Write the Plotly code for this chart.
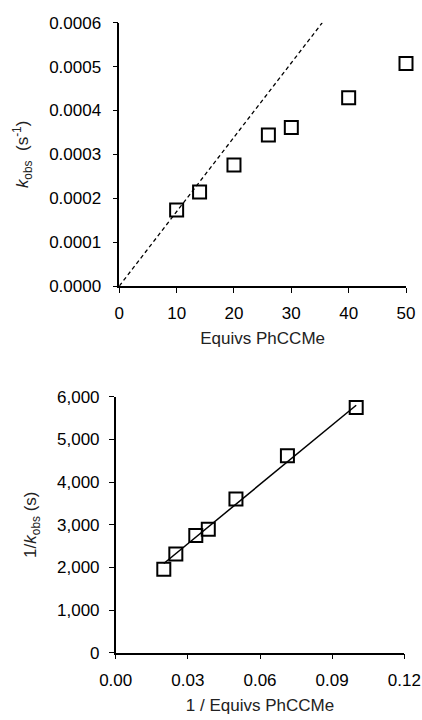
import plotly.graph_objects as go

# Top panel data: k_obs vs equivalents of PhCCMe
equivs = [10, 14, 20, 26, 30, 40, 50]
kobs = [0.000173, 0.000214, 0.000276, 0.000344, 0.000361, 0.000429, 0.000507]
# dashed reference line (initial-rate extrapolation)
dash_x = [0, 35.4]
dash_y = [0, 0.0006]

# Bottom panel data: 1/k_obs vs 1/equivs
inv_equivs = [0.02, 0.025, 0.0333, 0.0385, 0.05, 0.0714, 0.1]
inv_kobs = [1955, 2315, 2745, 2895, 3600, 4615, 5745]
fit_x = [0.02, 0.1]
fit_y = [2090, 5800]

top_xticks = [0, 10, 20, 30, 40, 50]
top_yticks = [0, 0.0001, 0.0002, 0.0003, 0.0004, 0.0005, 0.0006]
bot_xticks = [0.0, 0.03, 0.06, 0.09, 0.12]
bot_yticks = [0, 1000, 2000, 3000, 4000, 5000, 6000]

W, H = 422, 720
FONT = "Liberation Sans, Arial, sans-serif"
FS = 17

def fx(px):
    return px / W

def fy(py):
    return 1 - py / H

fig = go.Figure()

marker_style = dict(symbol="square-open", size=13, color="black",
                    line=dict(width=2, color="black"))

fig.add_trace(go.Scatter(x=dash_x, y=dash_y, mode="lines",
                         line=dict(color="black", width=1.3, dash="4px,3px"),
                         xaxis="x", yaxis="y", showlegend=False, cliponaxis=False))
fig.add_trace(go.Scatter(x=equivs, y=kobs, mode="markers", marker=marker_style,
                         xaxis="x", yaxis="y", showlegend=False, cliponaxis=False))

fig.add_trace(go.Scatter(x=fit_x, y=fit_y, mode="lines",
                         line=dict(color="black", width=1.5),
                         xaxis="x2", yaxis="y2", showlegend=False, cliponaxis=False))
fig.add_trace(go.Scatter(x=inv_equivs, y=inv_kobs, mode="markers", marker=marker_style,
                         xaxis="x2", yaxis="y2", showlegend=False, cliponaxis=False))

axis_common = dict(showline=True, linecolor="black", linewidth=1.5, showgrid=False,
                   zeroline=False, ticks="outside", ticklen=5, tickwidth=1.3,
                   tickcolor="black", tickfont=dict(family=FONT, size=FS, color="black"),
                   mirror=False, automargin=False)

title_font = dict(family=FONT, size=FS, color="#222")

fig.update_layout(
    width=W, height=H,
    margin=dict(l=0, r=0, t=0, b=0),
    paper_bgcolor="white", plot_bgcolor="white",
    font=dict(family=FONT, size=FS, color="black"),
    xaxis=dict(axis_common, domain=[fx(119.3), fx(406)], range=[0, 50],
               tickvals=top_xticks, anchor="y", ticklabelstandoff=6,
               title=dict(text="Equivs PhCCMe", standoff=10, font=title_font)),
    yaxis=dict(axis_common, domain=[fy(286), fy(22.7)], range=[0, 0.0006],
               tickvals=top_yticks, tickformat=".4f", anchor="x", ticklabelstandoff=8,
               title=dict(text="<i>k</i><sub>obs</sub>  (s<sup>-1</sup>)", standoff=16,
                          font=title_font)),
    xaxis2=dict(axis_common, domain=[fx(115.7), fx(404.3)], range=[0, 0.12],
                tickvals=bot_xticks, tickformat=".2f", anchor="y2", ticklabelstandoff=6,
                title=dict(text="1 / Equivs PhCCMe", standoff=10, font=title_font)),
    yaxis2=dict(axis_common, domain=[fy(652.7), fy(396.7)], range=[0, 6000],
                tickvals=bot_yticks, tickformat=",d", anchor="x2", ticklabelstandoff=6,
                title=dict(text="1/<i>k</i><sub>obs</sub> (s)", standoff=16,
                           font=title_font)),
)

fig.write_html("out.html")
